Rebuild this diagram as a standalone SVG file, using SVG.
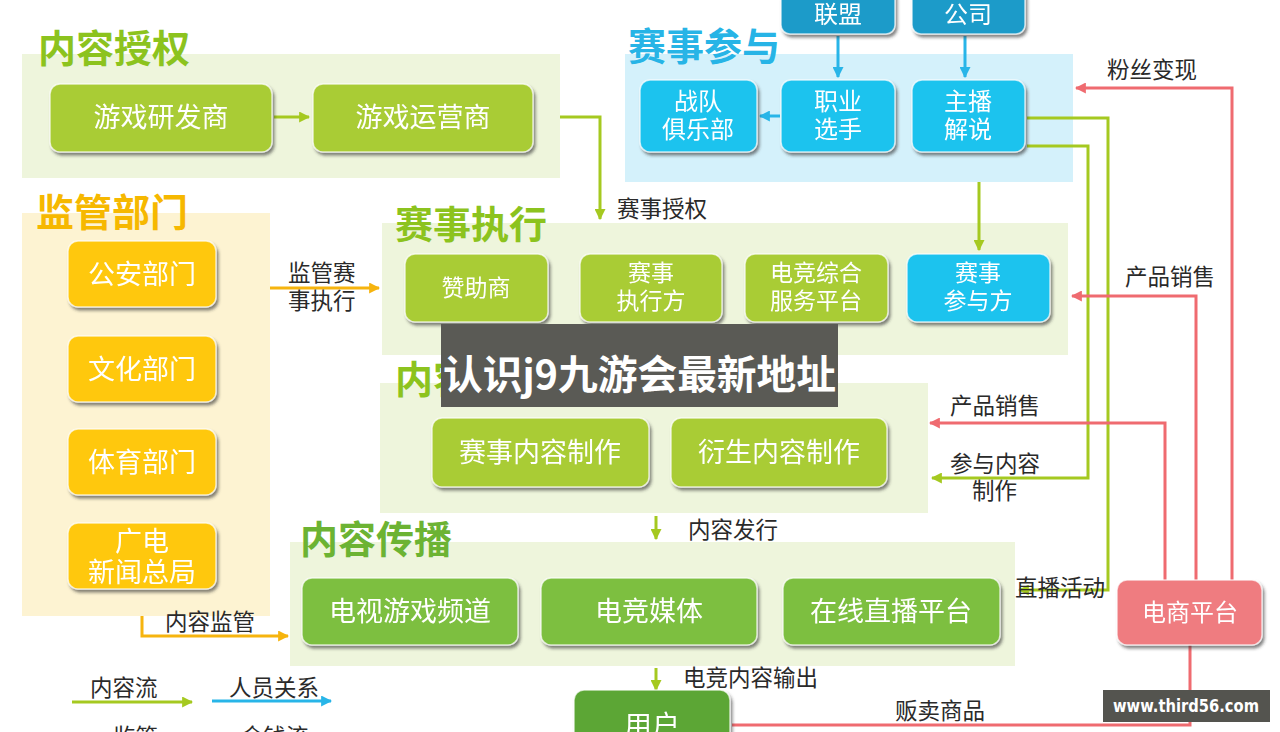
<svg xmlns="http://www.w3.org/2000/svg" width="1280" height="732" viewBox="0 0 1280 732">
<defs>
<style>
text{font-family:"Noto Sans CJK SC","Noto Sans",sans-serif;}
.title{font-size:38px;font-weight:bold;}
.nt{fill:#fff;text-anchor:middle;}
.n26{font-size:27px;}
.n24{font-size:24px;}
.n22{font-size:23px;}
.lbl{font-size:22.5px;fill:#2a2a2a;}
.pg{fill:#eef5dc;}
.nd rect{stroke:#ffffff;stroke-opacity:0.7;stroke-width:1.5;}
.g{fill:#a9cc34;}
.dg{fill:#7dbf3f;}
.o{fill:#ffc80a;}
.b{fill:#1ec3ee;}
.db{fill:#1a9bc9;}
.ln{fill:none;stroke-width:3;}
.lg{stroke:#a5c920;}
.lr{stroke:#ef6b70;}
.lo{stroke:#f6b40e;}
.lb{stroke:#28b5e8;}
</style>
<filter id="sh" x="-10%" y="-10%" width="125%" height="140%">
<feDropShadow dx="2" dy="3" stdDeviation="1.8" flood-color="#333" flood-opacity="0.6"/>
</filter>
<marker id="ag" viewBox="0 0 10 10" refX="9" refY="5" markerWidth="11" markerHeight="11" markerUnits="userSpaceOnUse" orient="auto"><path d="M0,0 L10,5 L0,10 Z" fill="#a5c920"/></marker>
<marker id="ar" viewBox="0 0 10 10" refX="9" refY="5" markerWidth="11" markerHeight="11" markerUnits="userSpaceOnUse" orient="auto"><path d="M0,0 L10,5 L0,10 Z" fill="#ef6b70"/></marker>
<marker id="ao" viewBox="0 0 10 10" refX="9" refY="5" markerWidth="11" markerHeight="11" markerUnits="userSpaceOnUse" orient="auto"><path d="M0,0 L10,5 L0,10 Z" fill="#f6b40e"/></marker>
<marker id="ab" viewBox="0 0 10 10" refX="9" refY="5" markerWidth="11" markerHeight="11" markerUnits="userSpaceOnUse" orient="auto"><path d="M0,0 L10,5 L0,10 Z" fill="#28b5e8"/></marker>
</defs>
<rect width="1280" height="732" fill="#fff"/>

<!-- panels -->
<g id="panel-neirongshouquan">
<rect class="pg" x="22" y="54" width="538" height="124"/>
<text class="title" x="38" y="62" fill="#8cc31e">内容授权</text>
</g>
<g id="panel-jianguan">
<rect x="22" y="213" width="248" height="403" fill="#fdf3d2"/>
<text class="title" x="36" y="226" fill="#f6b800">监管部门</text>
</g>
<g id="panel-saishicanyu">
<rect x="625" y="54" width="448" height="128" fill="#d4f1fb"/>
<text class="title" x="628" y="60" fill="#27b4e6">赛事参与</text>
</g>
<g id="panel-saishizhixing">
<rect class="pg" x="382" y="223" width="686" height="132"/>
<text class="title" x="395" y="238" fill="#8cc31e">赛事执行</text>
</g>
<g id="panel-neirongzhizuo">
<rect class="pg" x="380" y="383" width="548" height="130"/>
<text class="title" x="395" y="393" fill="#8cc31e">内容制作</text>
</g>
<g id="panel-neirongchuanbo">
<rect class="pg" x="290" y="542" width="725" height="124"/>
<text class="title" x="300" y="553" fill="#6cb333">内容传播</text>
</g>

<!-- connectors -->
<g id="connectors">
<path class="ln lg" d="M274,117 H309" marker-end="url(#ag)"/>
<path class="ln lg" d="M560,117 H600 V219" marker-end="url(#ag)"/>
<path class="ln lg" d="M979,182 V250" marker-end="url(#ag)"/>
<path class="ln lb" d="M838,36 V77" marker-end="url(#ab)"/>
<path class="ln lb" d="M965,36 V77" marker-end="url(#ab)"/>
<path class="ln lb" d="M780,116 H760" marker-end="url(#ab)"/>
<path class="ln lo" d="M270,288 H379" marker-end="url(#ao)"/>
<path class="ln lo" d="M142,616 V636 H288" marker-end="url(#ao)"/>
<path class="ln lg" d="M656,516 V539" marker-end="url(#ag)"/>
<path class="ln lg" d="M656,668 V690" marker-end="url(#ag)"/>
<path class="ln lg" d="M1027,118 H1108 V590 H1019" marker-end="url(#ag)"/>
<path class="ln lg" d="M1027,146 H1088 V478 H932" marker-end="url(#ag)"/>
<path class="ln lr" d="M1232,580 V88 H1076" marker-end="url(#ar)"/>
<path class="ln lr" d="M1196,580 V296 H1072" marker-end="url(#ar)"/>
<path class="ln lr" d="M1165,580 V423 H930" marker-end="url(#ar)"/>
<path class="ln lr" d="M1190,645 V725 H732"/>
<path class="ln lg" d="M72,702 H192" marker-end="url(#ag)"/>
<path class="ln lb" d="M212,701 H331" marker-end="url(#ab)"/>
<text class="lbl" x="617" y="217">赛事授权</text>
<text class="lbl" x="288" y="281">监管赛</text>
<text class="lbl" x="288" y="309">事执行</text>
<text class="lbl" x="165" y="630">内容监管</text>
<text class="lbl" x="688" y="538">内容发行</text>
<text class="lbl" x="683" y="686">电竞内容输出</text>
<text class="lbl" x="1107" y="78">粉丝变现</text>
<text class="lbl" x="1125" y="285">产品销售</text>
<text class="lbl" x="950" y="414">产品销售</text>
<text class="lbl" x="950" y="472">参与内容</text>
<text class="lbl" x="972" y="499">制作</text>
<text class="lbl" x="1015" y="596">直播活动</text>
<text class="lbl" x="895" y="719">贩卖商品</text>
<text class="lbl" x="90" y="696">内容流</text>
<text class="lbl" x="229" y="696">人员关系</text>
<text class="lbl" x="113" y="745">监管</text>
<text class="lbl" x="241" y="745">金钱流</text>
</g>

<!-- nodes -->
<g id="n-yanfa" class="nd" filter="url(#sh)"><rect class="g" x="50" y="84" width="222" height="68" rx="10"/><text class="nt n26" x="161" y="127">游戏研发商</text></g>
<g id="n-yunying" class="nd" filter="url(#sh)"><rect class="g" x="313" y="84" width="220" height="68" rx="10"/><text class="nt n26" x="423" y="127">游戏运营商</text></g>

<g id="n-gongan" class="nd" filter="url(#sh)"><rect class="o" x="68" y="241" width="148" height="66" rx="10"/><text class="nt n26" x="142" y="284">公安部门</text></g>
<g id="n-wenhua" class="nd" filter="url(#sh)"><rect class="o" x="68" y="336" width="148" height="66" rx="10"/><text class="nt n26" x="142" y="379">文化部门</text></g>
<g id="n-tiyu" class="nd" filter="url(#sh)"><rect class="o" x="68" y="429" width="148" height="66" rx="10"/><text class="nt n26" x="142" y="472">体育部门</text></g>
<g id="n-guangdian" class="nd" filter="url(#sh)"><rect class="o" x="68" y="523" width="148" height="66" rx="10"/><text class="nt n26" x="142" y="551">广电</text><text class="nt n26" x="142" y="582">新闻总局</text></g>

<g id="n-lianmeng" class="nd" filter="url(#sh)"><rect class="db" x="781" y="-12" width="114" height="46" rx="9"/><text class="nt n24" x="838" y="23">联盟</text></g>
<g id="n-gongsi" class="nd" filter="url(#sh)"><rect class="db" x="912" y="-12" width="113" height="46" rx="9"/><text class="nt n24" x="968" y="23">公司</text></g>
<g id="n-zhandui" class="nd" filter="url(#sh)"><rect class="b" x="640" y="80" width="117" height="72" rx="10"/><text class="nt n24" x="698" y="110">战队</text><text class="nt n24" x="698" y="138">俱乐部</text></g>
<g id="n-zhiye" class="nd" filter="url(#sh)"><rect class="b" x="781" y="80" width="114" height="72" rx="10"/><text class="nt n24" x="838" y="110">职业</text><text class="nt n24" x="838" y="138">选手</text></g>
<g id="n-zhubo" class="nd" filter="url(#sh)"><rect class="b" x="912" y="80" width="113" height="72" rx="10"/><text class="nt n24" x="968" y="110">主播</text><text class="nt n24" x="968" y="138">解说</text></g>

<g id="n-zanzhu" class="nd" filter="url(#sh)"><rect class="g" x="405" y="254" width="143" height="68" rx="10"/><text class="nt n22" x="476" y="296">赞助商</text></g>
<g id="n-zhixingfang" class="nd" filter="url(#sh)"><rect class="g" x="580" y="254" width="142" height="68" rx="10"/><text class="nt n22" x="651" y="281">赛事</text><text class="nt n22" x="651" y="309">执行方</text></g>
<g id="n-fuwu" class="nd" filter="url(#sh)"><rect class="g" x="745" y="254" width="143" height="68" rx="10"/><text class="nt n22" x="816" y="281">电竞综合</text><text class="nt n22" x="816" y="309">服务平台</text></g>
<g id="n-canyufang" class="nd" filter="url(#sh)"><rect class="b" x="907" y="254" width="143" height="68" rx="10"/><text class="nt n22" x="978" y="281">赛事</text><text class="nt n22" x="978" y="309">参与方</text></g>

<g id="n-saishineirong" class="nd" filter="url(#sh)"><rect class="g" x="432" y="418" width="217" height="69" rx="10"/><text class="nt n26" x="540" y="462">赛事内容制作</text></g>
<g id="n-yansheng" class="nd" filter="url(#sh)"><rect class="g" x="671" y="418" width="216" height="69" rx="10"/><text class="nt n26" x="779" y="462">衍生内容制作</text></g>

<g id="n-dianshi" class="nd" filter="url(#sh)"><rect class="dg" x="302" y="578" width="216" height="67" rx="10"/><text class="nt n26" x="410" y="621">电视游戏频道</text></g>
<g id="n-meiti" class="nd" filter="url(#sh)"><rect class="dg" x="541" y="578" width="216" height="67" rx="10"/><text class="nt n26" x="649" y="621">电竞媒体</text></g>
<g id="n-zhibo" class="nd" filter="url(#sh)"><rect class="dg" x="783" y="578" width="217" height="67" rx="10"/><text class="nt n26" x="891" y="621">在线直播平台</text></g>

<g id="n-yonghu" class="nd" filter="url(#sh)"><rect x="574" y="690" width="156" height="62" rx="10" fill="#5ba634"/><text class="nt" x="652" y="736" font-size="28">用户</text></g>
<g id="n-dianshang" class="nd" filter="url(#sh)"><rect x="1117" y="580" width="145" height="65" rx="10" fill="#ef7b80"/><text class="nt" x="1190" y="621" font-size="24">电商平台</text></g>

<!-- overlays -->
<g id="overlay-banner">
<rect x="441" y="324" width="397" height="83" fill="#5a5a55"/>
<text x="443" y="389" font-size="40" font-weight="bold" fill="#fff" textLength="393" lengthAdjust="spacingAndGlyphs">认识j9九游会最新地址</text>
</g>
<g id="overlay-watermark">
<rect x="1103" y="690" width="167" height="32" fill="#54544f"/>
<text x="1186" y="712" font-size="17" font-weight="bold" fill="#fff" text-anchor="middle" style="font-family:'DejaVu Sans',sans-serif" textLength="146" lengthAdjust="spacingAndGlyphs">www.third56.com</text>
</g>
</svg>
